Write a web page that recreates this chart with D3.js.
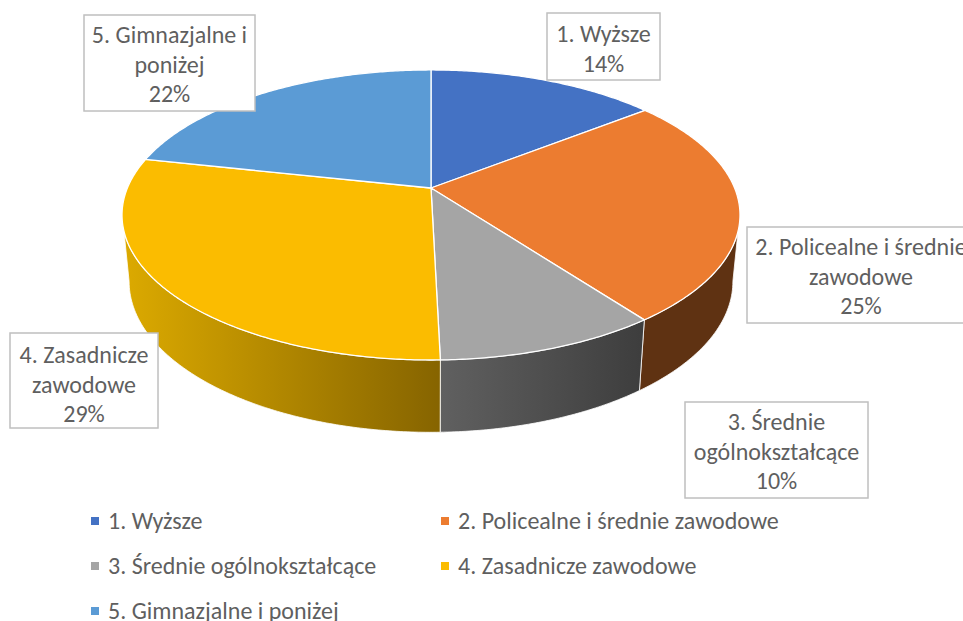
<!DOCTYPE html>
<html><head><meta charset="utf-8">
<script src="https://cdnjs.cloudflare.com/ajax/libs/d3/7.8.5/d3.min.js"></script>
<style>html,body{margin:0;padding:0;background:#fff;overflow:hidden}svg{display:block}text{font-family:Carlito,Lato,sans-serif;fill:#5f5f5f}</style>
</head><body><svg id="c" width="963" height="621"></svg>
<script>
const categories = ["1. Wyższe","2. Policealne i średnie zawodowe","3. Średnie ogólnokształcące","4. Zasadnicze zawodowe","5. Gimnazjalne i poniżej"];
const values = [14.4,25.4,9.8,28.8,21.6];
const colors = ["#4472C4","#EC7C30","#A5A5A5","#FBBC00","#5B9BD5"];
const labelLines = [["1. Wyższe"],["2. Policealne i średnie","zawodowe"],["3. Średnie","ogólnokształcące"],["4. Zasadnicze","zawodowe"],["5. Gimnazjalne i","poniżej"]];

const FS=24;
const svg=d3.select("#c");
const persp=-0.186, cx=431, cy=188, A=303.6, B=140;
const sx=d3.scaleLinear().domain([-1,1]).range([cx-A,cx+A]);
const sy=d3.scaleLinear().domain([-1,1]).range([cy-B,cy+B]);
const BOTTOM={sX:0.977, midTop:215, midBot:281.5, sY:1.04};
function topPt(t){const u=Math.sin(t),v=-Math.cos(t),w=1+persp*v;return [sx(u/w),sy(v/w)];}
function botPt(t){const p=topPt(t);return [cx+(p[0]-cx)*BOTTOM.sX, BOTTOM.midBot+(p[1]-BOTTOM.midTop)*BOTTOM.sY];}
function arcPts(f,a,b){const n=Math.max(2,Math.ceil(Math.abs(b-a)/0.01));return d3.range(n+1).map(i=>f(a+(b-a)*i/n));}
const pathLine=d3.line();
const arcs=d3.pie().sort(null).value(d=>d)(values);
const rad=d=>d*Math.PI/180;
const topA=rad(107),topB=rad(253),botA=rad(100.7),botB=rad(259.3);

const defs=svg.append("defs");
const gY=defs.append("linearGradient").attr("id","gy").attr("gradientUnits","userSpaceOnUse").attr("x1",123).attr("x2",440).attr("y1",0).attr("y2",0);
gY.append("stop").attr("offset",0).attr("stop-color","#DCAA00");
gY.append("stop").attr("offset",1).attr("stop-color","#866400");
const gG=defs.append("linearGradient").attr("id","gg").attr("gradientUnits","userSpaceOnUse").attr("x1",441).attr("x2",640).attr("y1",0).attr("y2",0);
gG.append("stop").attr("offset",0).attr("stop-color","#606060");
gG.append("stop").attr("offset",1).attr("stop-color","#3E3E3E");
const wallFill=["none","#5F3212","url(#gg)","url(#gy)","none"];

// walls
svg.append("g").selectAll("path").data(arcs.filter(d=>wallFill[d.index]!=="none")).join("path")
 .attr("fill",d=>wallFill[d.index])
 .attr("stroke","#fff").attr("stroke-width",0.8)
 .attr("d",d=>{
   const ta=Math.max(d.startAngle,topA),tb=Math.min(d.endAngle,topB);
   const ba=Math.max(d.startAngle,botA),bb=Math.min(d.endAngle,botB);
   return pathLine(arcPts(topPt,ta,tb).concat(arcPts(botPt,bb,ba)))+"Z";
 });

// top face
svg.append("g").selectAll("path").data(arcs).join("path")
 .attr("fill",d=>colors[d.index]).attr("stroke","#fff").attr("stroke-width",1.3).attr("stroke-linejoin","round")
 .attr("d",d=>pathLine([[cx,cy]].concat(arcPts(topPt,d.startAngle,d.endAngle)))+"Z");

// data labels
const boxes=[
 {x:547,y:13,w:113,h:67,b:42},
 {x:747,y:227,w:228,h:96,b:255},
 {x:685,y:402,w:183,h:96,b:430},
 {x:10,y:333,w:148,h:95,b:363},
 {x:84,y:15,w:171,h:96,b:43}];
const gl=svg.append("g").selectAll("g").data(arcs).join("g");
gl.append("rect").attr("x",d=>boxes[d.index].x).attr("y",d=>boxes[d.index].y).attr("width",d=>boxes[d.index].w).attr("height",d=>boxes[d.index].h)
 .attr("fill","#fff").attr("stroke","#BFBFBF").attr("stroke-width",1.5);
gl.each(function(d){
  const b=boxes[d.index],ls=labelLines[d.index].concat([Math.round(d.value)+"%"]);
  d3.select(this).selectAll("text").data(ls).join("text").attr("text-anchor","middle")
    .attr("x",b.x+b.w/2).attr("y",(t,i)=>b.b+i*29.5).attr("font-size",FS).text(t=>t);
});

// legend
const lx=d3.scaleOrdinal().domain([0,1]).range([91,441]);
const ly=d3.scaleLinear().domain([0,2]).range([521,611]);
const lg=svg.append("g").selectAll("g").data(categories).join("g")
 .attr("transform",(d,i)=>{const r=i===4?2:Math.floor(i/2);return `translate(${lx(i%2)},${ly(r)})`;});
lg.append("rect").attr("x",0).attr("y",-4).attr("width",8).attr("height",8).attr("fill",(d,i)=>colors[i]);
lg.append("text").attr("x",17).attr("y",8).attr("font-size",FS).text(d=>d);
</script></body></html>
